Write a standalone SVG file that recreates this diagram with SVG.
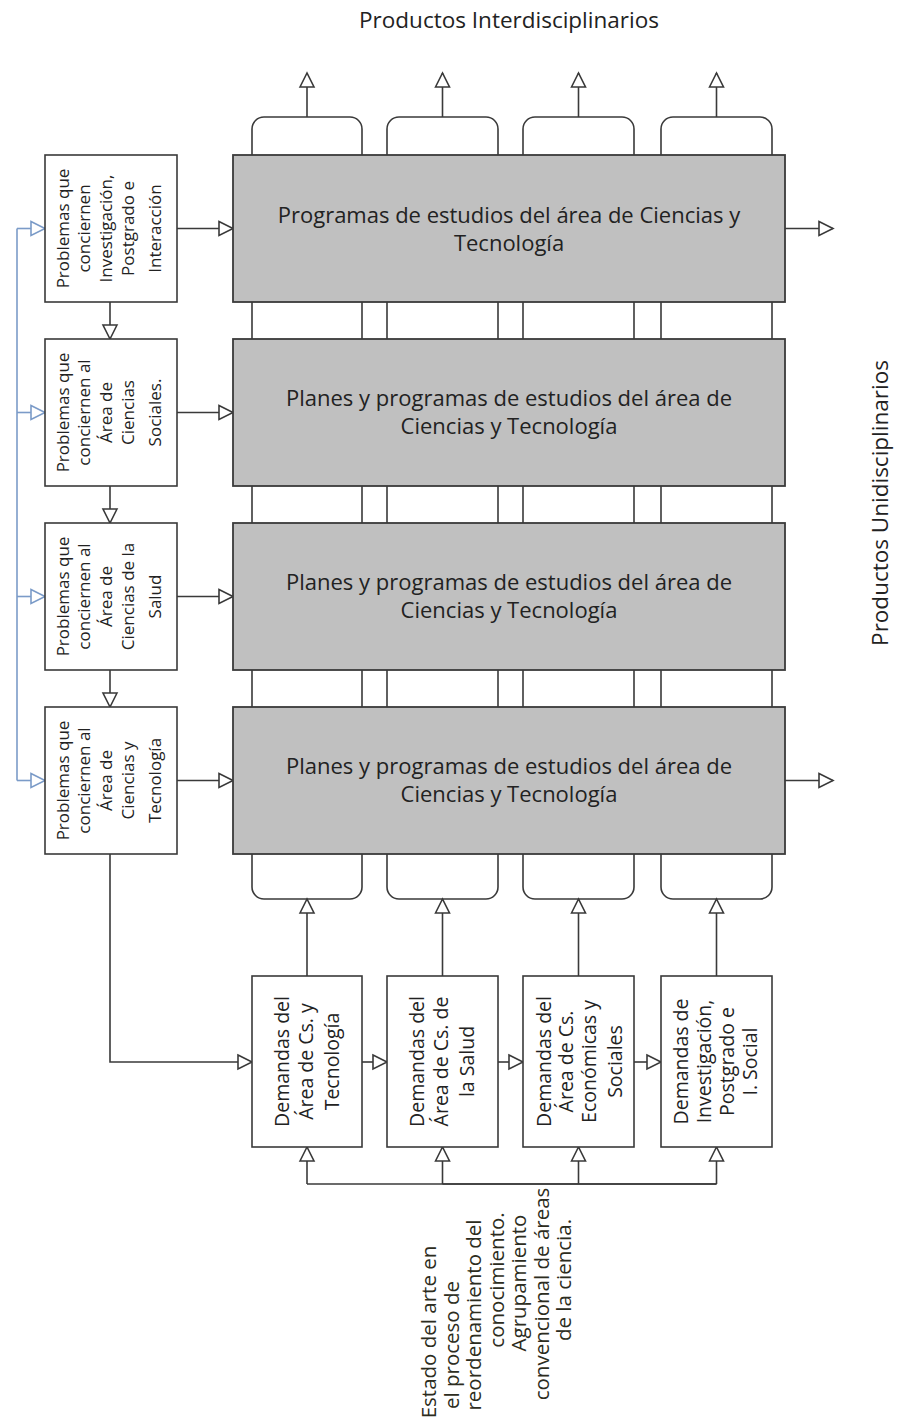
<svg xmlns="http://www.w3.org/2000/svg" width="899" height="1426" viewBox="0 0 899 1426">
  <style>
    text { font-family: "Open Sans", "Noto Sans", "DejaVu Sans", sans-serif; fill: #222; }
    .ln { fill: none; stroke: #3a3a3a; stroke-width: 1.6; }
    .blue { fill: none; stroke: #7b9bc8; stroke-width: 1.6; }
    .box { fill: #ffffff; stroke: #3a3a3a; stroke-width: 1.6; }
    .prog { fill: #c0c0c0; stroke: #3a3a3a; stroke-width: 1.8; }
    .tube { fill: #ffffff; stroke: #3a3a3a; stroke-width: 1.6; }
    .title { font-size: 22.5px; }
    .big { font-size: 22px; }
    .prob { font-size: 17px; }
    .dem { font-size: 19.5px; }
    .state { font-size: 20.5px; fill: #2c2c20; }
  </style>
  <defs>
    <marker id="tri" markerUnits="userSpaceOnUse" markerWidth="18" markerHeight="18" refX="14" refY="7" orient="auto" overflow="visible">
      <path d="M0,0 L14,7 L0,14 Z" fill="#ffffff" stroke="#3a3a3a" stroke-width="1.6"/>
    </marker>
    <marker id="triBlue" markerUnits="userSpaceOnUse" markerWidth="18" markerHeight="18" refX="14" refY="7" orient="auto" overflow="visible">
      <path d="M0,0 L14,7 L0,14 Z" fill="#ffffff" stroke="#7b9bc8" stroke-width="1.6"/>
    </marker>
  </defs>

  <rect width="899" height="1426" fill="#ffffff"/>

  <!-- outer labels -->
  <text class="title" x="509" y="28" text-anchor="middle">Productos Interdisciplinarios</text>
  <text class="title" transform="translate(879,503) rotate(-90)" text-anchor="middle" dominant-baseline="central">Productos Unidisciplinarios</text>

  <!-- columns (tubes) running through the programme rows -->
  <g id="columns">
    <rect class="tube" x="252" y="117" width="110" height="782" rx="12"/>
    <rect class="tube" x="387" y="117" width="111" height="782" rx="12"/>
    <rect class="tube" x="523" y="117" width="111" height="782" rx="12"/>
    <rect class="tube" x="661" y="117" width="111" height="782" rx="12"/>
  </g>

  <!-- connectors -->
  <g id="connectors">
    <!-- interdisciplinary outputs -->
    <path class="ln" d="M307,117 V73" marker-end="url(#tri)"/>
    <path class="ln" d="M442.5,117 V73" marker-end="url(#tri)"/>
    <path class="ln" d="M578.5,117 V73" marker-end="url(#tri)"/>
    <path class="ln" d="M716.5,117 V73" marker-end="url(#tri)"/>
    <!-- unidisciplinary outputs -->
    <path class="ln" d="M785,228.5 H833" marker-end="url(#tri)"/>
    <path class="ln" d="M785,780.5 H833" marker-end="url(#tri)"/>
    <!-- problems to programmes -->
    <path class="ln" d="M177,228.5 H233" marker-end="url(#tri)"/>
    <path class="ln" d="M177,412.5 H233" marker-end="url(#tri)"/>
    <path class="ln" d="M177,596.5 H233" marker-end="url(#tri)"/>
    <path class="ln" d="M177,780.5 H233" marker-end="url(#tri)"/>
    <!-- chain of problem boxes -->
    <path class="ln" d="M110,302 V339" marker-end="url(#tri)"/>
    <path class="ln" d="M110,486 V523" marker-end="url(#tri)"/>
    <path class="ln" d="M110,670 V707" marker-end="url(#tri)"/>
    <!-- blue feedback bus -->
    <path class="blue" d="M17,228.5 V780.5"/>
    <path class="blue" d="M17,228.5 H45" marker-end="url(#triBlue)"/>
    <path class="blue" d="M17,412.5 H45" marker-end="url(#triBlue)"/>
    <path class="blue" d="M17,596.5 H45" marker-end="url(#triBlue)"/>
    <path class="blue" d="M17,780.5 H45" marker-end="url(#triBlue)"/>
    <!-- problems to demands -->
    <path class="ln" d="M110,854 V1062 H252" marker-end="url(#tri)"/>
    <path class="ln" d="M362,1062 H387" marker-end="url(#tri)"/>
    <path class="ln" d="M498,1062 H523" marker-end="url(#tri)"/>
    <path class="ln" d="M634,1062 H661" marker-end="url(#tri)"/>
    <!-- demands feeding columns -->
    <path class="ln" d="M307,976 V899" marker-end="url(#tri)"/>
    <path class="ln" d="M442.5,976 V899" marker-end="url(#tri)"/>
    <path class="ln" d="M578.5,976 V899" marker-end="url(#tri)"/>
    <path class="ln" d="M716.5,976 V899" marker-end="url(#tri)"/>
    <!-- state of the art bus -->
    <path class="ln" d="M307,1184 H716.5"/>
    <path class="ln" d="M442.5,1184 H716.5" stroke-width="3"/>
    <path class="ln" d="M307,1184 V1147" marker-end="url(#tri)"/>
    <path class="ln" d="M442.5,1184 V1147" stroke-width="2.6" marker-end="url(#tri)"/>
    <path class="ln" d="M578.5,1184 V1147" stroke-width="2.6" marker-end="url(#tri)"/>
    <path class="ln" d="M716.5,1184 V1147" marker-end="url(#tri)"/>
  </g>

  <!-- programme rows -->
  <g id="prog1">
    <rect class="prog" x="233" y="155" width="552" height="147"/>
    <text class="big" text-anchor="middle"><tspan x="509" y="223">Programas de estudios del área de Ciencias y</tspan><tspan x="509" y="251">Tecnología</tspan></text>
  </g>
  <g id="prog2">
    <rect class="prog" x="233" y="339" width="552" height="147"/>
    <text class="big" text-anchor="middle"><tspan x="509" y="406">Planes y programas de estudios del  área de</tspan><tspan x="509" y="434">Ciencias y Tecnología</tspan></text>
  </g>
  <g id="prog3">
    <rect class="prog" x="233" y="523" width="552" height="147"/>
    <text class="big" text-anchor="middle"><tspan x="509" y="590">Planes y programas de estudios del  área de</tspan><tspan x="509" y="618">Ciencias y Tecnología</tspan></text>
  </g>
  <g id="prog4">
    <rect class="prog" x="233" y="707" width="552" height="147"/>
    <text class="big" text-anchor="middle"><tspan x="509" y="774">Planes y programas de estudios del  área de</tspan><tspan x="509" y="802">Ciencias y Tecnología</tspan></text>
  </g>

  <!-- problem boxes -->
  <g id="prob1" text-anchor="middle">
    <rect class="box" x="45" y="155" width="132" height="147"/>
    <text transform="translate(62,228.5) rotate(-90)" class="prob" dominant-baseline="central">Problemas que</text>
    <text transform="translate(83,228.5) rotate(-90)" class="prob" dominant-baseline="central">conciernen</text>
    <text transform="translate(105,228.5) rotate(-90)" class="prob" dominant-baseline="central">Investigación,</text>
    <text transform="translate(127,228.5) rotate(-90)" class="prob" dominant-baseline="central">Postgrado e</text>
    <text transform="translate(154,228.5) rotate(-90)" class="prob" dominant-baseline="central">Interacción</text>
  </g>
  <g id="prob2" text-anchor="middle">
    <rect class="box" x="45" y="339" width="132" height="147"/>
    <text transform="translate(62,412.5) rotate(-90)" class="prob" dominant-baseline="central">Problemas que</text>
    <text transform="translate(83,412.5) rotate(-90)" class="prob" dominant-baseline="central">conciernen al</text>
    <text transform="translate(105,412.5) rotate(-90)" class="prob" dominant-baseline="central">Área de</text>
    <text transform="translate(127,412.5) rotate(-90)" class="prob" dominant-baseline="central">Ciencias</text>
    <text transform="translate(154,412.5) rotate(-90)" class="prob" dominant-baseline="central">Sociales.</text>
  </g>
  <g id="prob3" text-anchor="middle">
    <rect class="box" x="45" y="523" width="132" height="147"/>
    <text transform="translate(62,596.5) rotate(-90)" class="prob" dominant-baseline="central">Problemas que</text>
    <text transform="translate(83,596.5) rotate(-90)" class="prob" dominant-baseline="central">conciernen al</text>
    <text transform="translate(105,596.5) rotate(-90)" class="prob" dominant-baseline="central">Área de</text>
    <text transform="translate(127,596.5) rotate(-90)" class="prob" dominant-baseline="central">Ciencias de la</text>
    <text transform="translate(154,596.5) rotate(-90)" class="prob" dominant-baseline="central">Salud</text>
  </g>
  <g id="prob4" text-anchor="middle">
    <rect class="box" x="45" y="707" width="132" height="147"/>
    <text transform="translate(62,780.5) rotate(-90)" class="prob" dominant-baseline="central">Problemas que</text>
    <text transform="translate(83,780.5) rotate(-90)" class="prob" dominant-baseline="central">conciernen al</text>
    <text transform="translate(105,780.5) rotate(-90)" class="prob" dominant-baseline="central">Área de</text>
    <text transform="translate(127,780.5) rotate(-90)" class="prob" dominant-baseline="central">Ciencias y</text>
    <text transform="translate(154,780.5) rotate(-90)" class="prob" dominant-baseline="central">Tecnología</text>
  </g>

  <!-- demand boxes -->
  <g id="dem1" text-anchor="middle">
    <rect class="box" x="252" y="976" width="110" height="171"/>
    <text transform="translate(281,1061.5) rotate(-90)" class="dem" dominant-baseline="central">Demandas del</text>
    <text transform="translate(305,1061.5) rotate(-90)" class="dem" dominant-baseline="central">Área de Cs. y</text>
    <text transform="translate(331,1061.5) rotate(-90)" class="dem" dominant-baseline="central">Tecnología</text>
  </g>
  <g id="dem2" text-anchor="middle">
    <rect class="box" x="387" y="976" width="111" height="171"/>
    <text transform="translate(416,1061.5) rotate(-90)" class="dem" dominant-baseline="central">Demandas del</text>
    <text transform="translate(440,1061.5) rotate(-90)" class="dem" dominant-baseline="central">Área de Cs. de</text>
    <text transform="translate(466,1061.5) rotate(-90)" class="dem" dominant-baseline="central">la Salud</text>
  </g>
  <g id="dem3" text-anchor="middle">
    <rect class="box" x="523" y="976" width="111" height="171"/>
    <text transform="translate(543,1061.5) rotate(-90)" class="dem" dominant-baseline="central">Demandas del</text>
    <text transform="translate(565,1061.5) rotate(-90)" class="dem" dominant-baseline="central">Área de Cs.</text>
    <text transform="translate(588,1061.5) rotate(-90)" class="dem" dominant-baseline="central">Económicas y</text>
    <text transform="translate(614,1061.5) rotate(-90)" class="dem" dominant-baseline="central">Sociales</text>
  </g>
  <g id="dem4" text-anchor="middle">
    <rect class="box" x="661" y="976" width="111" height="171"/>
    <text transform="translate(680,1061.5) rotate(-90)" class="dem" dominant-baseline="central">Demandas de</text>
    <text transform="translate(703,1061.5) rotate(-90)" class="dem" dominant-baseline="central">Investigación,</text>
    <text transform="translate(726,1061.5) rotate(-90)" class="dem" dominant-baseline="central">Postgrado e</text>
    <text transform="translate(749,1061.5) rotate(-90)" class="dem" dominant-baseline="central">I. Social</text>
  </g>

  <!-- state of the art note -->
  <g id="state" text-anchor="middle">
    <text class="state" transform="translate(428,1332) rotate(-90)" dominant-baseline="central">Estado del arte en</text>
    <text class="state" transform="translate(451,1345) rotate(-90)" dominant-baseline="central">el proceso de</text>
    <text class="state" transform="translate(473,1315) rotate(-90)" dominant-baseline="central">reordenamiento del</text>
    <text class="state" transform="translate(496,1280) rotate(-90)" dominant-baseline="central">conocimiento.</text>
    <text class="state" transform="translate(518,1283) rotate(-90)" dominant-baseline="central">Agrupamiento</text>
    <text class="state" transform="translate(541,1294) rotate(-90)" dominant-baseline="central">convencional de áreas</text>
    <text class="state" transform="translate(563,1280) rotate(-90)" dominant-baseline="central">de la ciencia.</text>
  </g>
</svg>
